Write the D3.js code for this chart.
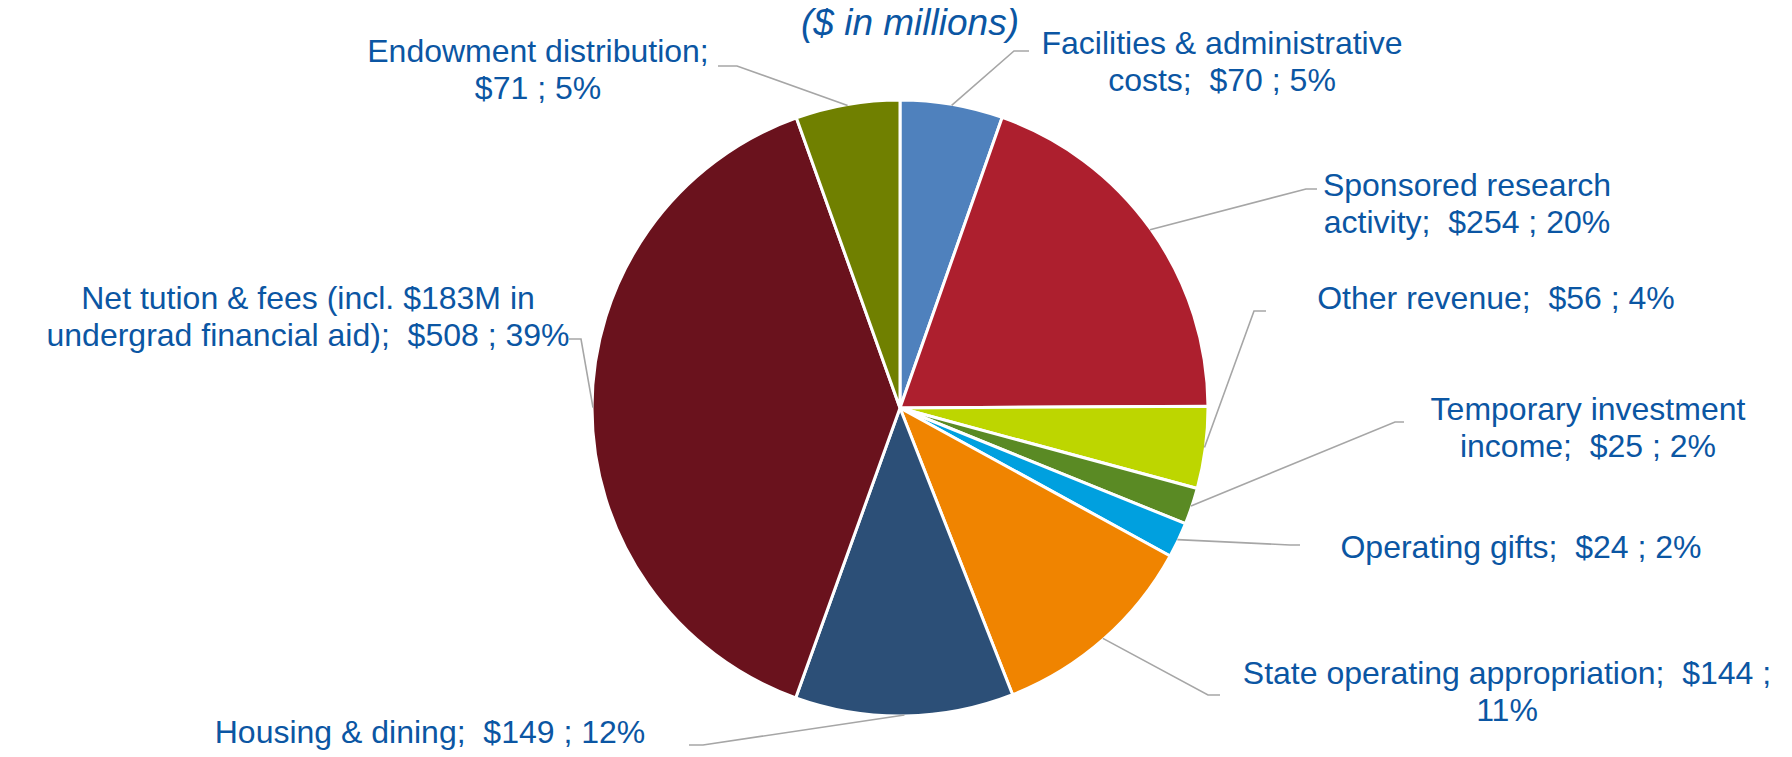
<!DOCTYPE html>
<html>
<head>
<meta charset="utf-8">
<script src="https://cdn.jsdelivr.net/npm/d3@7"></script>
<style>
  body { margin: 0; background: #fff; }
  svg text { font-family: "Liberation Sans", Arial, sans-serif; fill: #0b56a3; }
</style>
</head>
<body>
<div id="chart"></div>
<script>
// revenue sources, clockwise from 12 o'clock ($ in millions)
const names = [
  'Facilities & administrative costs',
  'Sponsored research activity',
  'Other revenue',
  'Temporary investment income',
  'Operating gifts',
  'State operating appropriation',
  'Housing & dining',
  'Net tution & fees (incl. $183M in undergrad financial aid)',
  'Endowment distribution'
];
const values = [70, 254, 56, 25, 24, 144, 149, 508, 71];
const percents = ['5%', '20%', '4%', '2%', '2%', '11%', '12%', '39%', '5%'];
const labelLines = [
  ['Facilities & administrative', 'costs;  $70 ; 5%'],
  ['Sponsored research', 'activity;  $254 ; 20%'],
  ['Other revenue;  $56 ; 4%'],
  ['Temporary investment', 'income;  $25 ; 2%'],
  ['Operating gifts;  $24 ; 2%'],
  ['State operating appropriation;  $144 ;', '11%'],
  ['Housing & dining;  $149 ; 12%'],
  ['Net tution & fees (incl. $183M in', 'undergrad financial aid);  $508 ; 39%'],
  ['Endowment distribution;', '$71 ; 5%']
];
const colors = ['#4f81bd', '#ad1f2e', '#bdd600', '#5a8a24', '#00a0df', '#f08400', '#2c4f77', '#6a121d', '#708000'];

// label placement: text centre x, first baseline y, leader elbow and end
const labelPos = [
  { x: 1222, y: 54, elbow: [1014, 51], end: [1029, 51] },
  { x: 1467, y: 196, elbow: [1306, 189], end: [1317, 189] },
  { x: 1496, y: 309, elbow: [1254, 311], end: [1266, 311] },
  { x: 1588, y: 420, elbow: [1395, 422], end: [1404, 422] },
  { x: 1521, y: 558, elbow: [1290, 545], end: [1300, 545] },
  { x: 1507, y: 684, elbow: [1208, 695], end: [1220, 695] },
  { x: 430, y: 743, elbow: [703, 745], end: [689, 745] },
  { x: 308, y: 309, elbow: [581, 339], end: [569, 339] },
  { x: 538, y: 62, elbow: [737, 66], end: [718, 66] }
];

const width = 1792;
const height = 757;
const cx = 900;
const cy = 408;
const radius = 308;
const lineGap = 37;

const data = values.map((v, i) => ({ name: names[i], value: v, pct: percents[i], i: i }));

const svg = d3.select('#chart').append('svg')
  .attr('width', width)
  .attr('height', height);

svg.append('text')
  .attr('x', 910)
  .attr('y', 35)
  .attr('text-anchor', 'middle')
  .style('font-size', '37px')
  .style('font-style', 'italic')
  .text('($ in millions)');

const pie = d3.pie().value(d => d.value).sort(null);
const arc = d3.arc().innerRadius(0).outerRadius(radius);
const arcs = pie(data);

const g = svg.append('g').attr('transform', `translate(${cx},${cy})`);

g.selectAll('.slice')
  .data(arcs)
  .enter().append('path')
  .attr('class', 'slice')
  .attr('d', arc)
  .style('fill', d => colors[d.data.i])
  .style('stroke', '#fff')
  .style('stroke-width', 3)
  .style('stroke-linejoin', 'round');

// leader lines start on the rim at each slice's mid angle
svg.selectAll('.leader')
  .data(arcs)
  .enter().append('polyline')
  .attr('class', 'leader')
  .attr('points', d => {
    const a = (d.startAngle + d.endAngle) / 2;
    const p = labelPos[d.data.i];
    const sx = cx + Math.sin(a) * (radius - 1);
    const sy = cy - Math.cos(a) * (radius - 1);
    return [[sx, sy], p.elbow, p.end].map(q => q.join(',')).join(' ');
  })
  .style('fill', 'none')
  .style('stroke', '#a6a6a6')
  .style('stroke-width', 1.6);

const labels = svg.selectAll('.label')
  .data(arcs)
  .enter().append('text')
  .attr('class', 'label')
  .attr('text-anchor', 'middle')
  .style('font-size', '32px')
  .attr('xml:space', 'preserve');

labels.each(function(d) {
  const p = labelPos[d.data.i];
  d3.select(this).selectAll('tspan')
    .data(labelLines[d.data.i])
    .enter().append('tspan')
    .attr('x', p.x)
    .attr('y', (t, k) => p.y + k * lineGap)
    .style('white-space', 'pre')
    .text(t => t);
});
</script>
</body>
</html>
